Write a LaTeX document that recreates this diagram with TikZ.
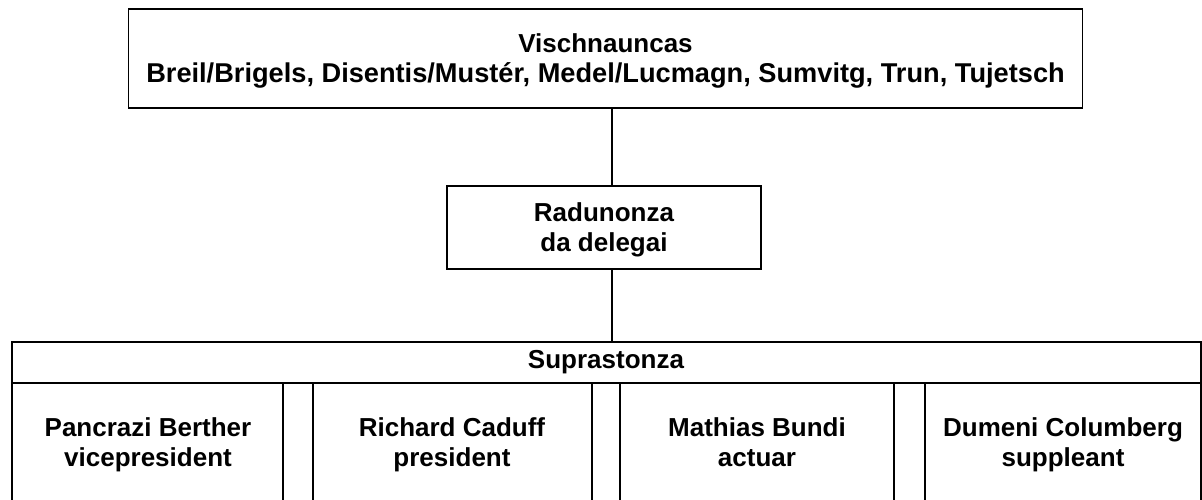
\documentclass[tikz,border=0pt]{standalone}
\usepackage{fontspec}
\setmainfont{Liberation Sans}
\tikzset{
  box/.style={draw, line width=1.8pt, inner sep=0pt},
  lbl/.style={align=center, font=\fontsize{26}{29.5}\selectfont\bfseries, inner sep=0pt},
  edge/.style={line width=1.8pt},
}
\begin{document}
\begin{tikzpicture}[x=1pt,y=-1pt]
\useasboundingbox (0,0) rectangle (1202,499);
% top box
\node[box, minimum width=954pt, minimum height=99pt] (vis) at (605.5,58.5) {};
\node[lbl] (vist) at (605.5,61)
  {Vischnauncas\\\fontsize{27.2}{29.5}\selectfont Breil/Brigels, Disentis/Must\'er, Medel/Lucmagn, Sumvitg, Trun, Tujetsch};
% middle box
\node[box, minimum width=314pt, minimum height=83pt] (rad) at (604,227.5) {};
\node[lbl] (radt) at (604,230) {Radunonza\\da delegai};
% bottom table
\coordinate (stl) at (12,342);
\coordinate (str) at (1201,342);
\coordinate (sbl) at (12,505);
\coordinate (sbr) at (1201,505);
\coordinate (sup) at (612,342);
\draw[edge] (sbl) -- (stl) -- (str) -- (sbr);
\draw[edge] (12,383) -- (1201,383);
\foreach \xa in {283,313,592,620,894,925}{
  \draw[edge] (\xa,383) -- (\xa,505);
}
\node[lbl] (supra) at (606,362.5) {Suprastonza};
\node[lbl] (p1) at (148,445) {Pancrazi Berther\\vicepresident};
\node[lbl] (p2) at (452,445) {Richard Caduff\\president};
\node[lbl] (p3) at (757,445) {Mathias Bundi\\actuar\vphantom{p}};
\node[lbl] (p4) at (1063,445) {Dumeni Columberg\\suppleant};
% connectors
\coordinate (c1) at (612,0);
\draw[edge] (vis.south -| c1) -- (rad.north -| c1);
\draw[edge] (rad.south -| c1) -- (sup);
\end{tikzpicture}
\end{document}
